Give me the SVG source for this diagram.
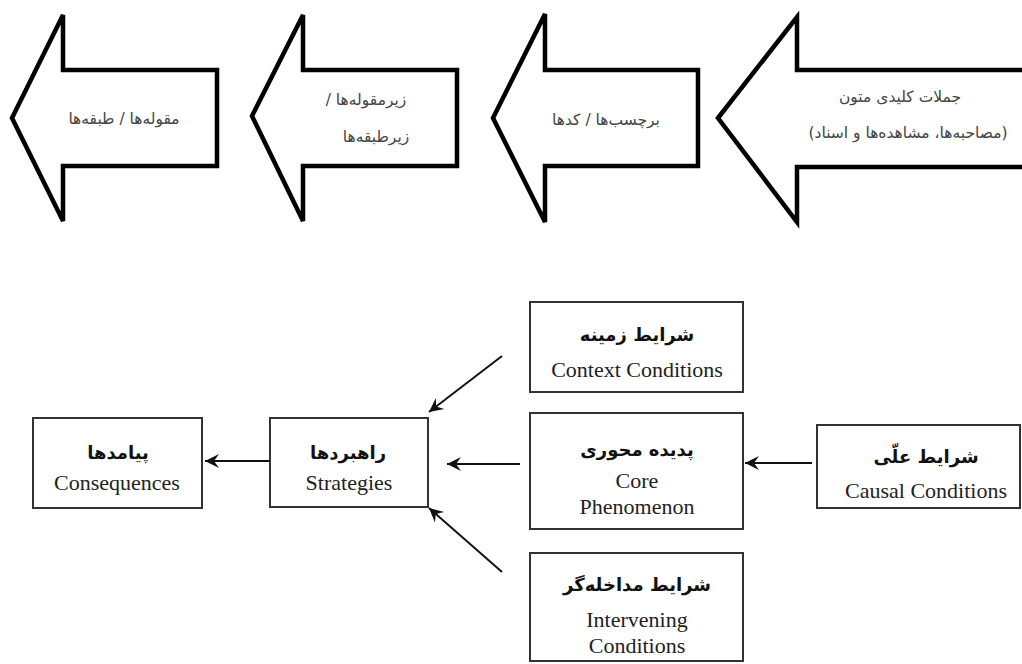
<svg xmlns="http://www.w3.org/2000/svg" width="1022" height="664" viewBox="0 0 1022 664">
  <defs>
    <style>
      .blk { fill: #ffffff; stroke: #000000; stroke-width: 4.5; stroke-linejoin: miter; }
      .tfa { font-family: "DejaVu Sans", "Noto Sans", sans-serif; font-size: 15.5px; fill: #444444; text-anchor: middle; direction: rtl; unicode-bidi: embed; }
      .box { fill: #ffffff; stroke: #333333; stroke-width: 2; }
      .fa { font-family: "DejaVu Sans", "Noto Sans", sans-serif; font-size: 18px; font-weight: bold; fill: #111111; text-anchor: middle; direction: rtl; unicode-bidi: embed; }
      .en { font-family: "Liberation Serif", "Times New Roman", serif; font-size: 22px; fill: #222222; text-anchor: middle; }
      .con { stroke: #111111; stroke-width: 2; fill: none; marker-end: url(#ah); }
    </style>
    <marker id="ah" markerWidth="16" markerHeight="16" refX="14" refY="8" orient="auto" markerUnits="userSpaceOnUse">
      <path d="M0,1 L14,8 L0,15 L5,8 Z" fill="#111111"/>
    </marker>
  </defs>
  <rect x="0" y="0" width="1022" height="664" fill="#ffffff"/>

  <g id="arrow-categories">
    <path class="blk" d="M12,118 L63,15 L63,70 L217,70 L217,166 L63,166 L63,221 Z"/>
    <text class="tfa" x="124" y="124">مقوله‌ها / طبقه‌ها</text>
  </g>
  <g id="arrow-subcategories">
    <path class="blk" d="M252,116 L303,15 L303,70 L457,70 L457,166 L303,166 L303,221 Z"/>
    <text class="tfa" x="366" y="105">زیرمقوله‌ها /</text>
    <text class="tfa" x="376" y="142">زیرطبقه‌ها</text>
  </g>
  <g id="arrow-codes">
    <path class="blk" d="M493,118 L545,14 L545,70 L698,70 L698,166 L545,166 L545,222 Z"/>
    <text class="tfa" x="606" y="125">برچسب‌ها / کدها</text>
  </g>
  <g id="arrow-sentences">
    <path class="blk" d="M718,118 L797,17 L797,70 L1030,70 L1030,167 L797,167 L797,222 Z"/>
    <text class="tfa" x="900" y="102">جملات کلیدی متون</text>
    <text class="tfa" x="908" y="138">(مصاحبه‌ها، مشاهده‌ها و اسناد)</text>
  </g>

  <g id="node-context">
    <rect class="box" x="530" y="302" width="213" height="90"/>
    <text class="fa" x="637" y="341">شرایط زمینه</text>
    <text class="en" x="637" y="377">Context Conditions</text>
  </g>
  <g id="node-core">
    <rect class="box" x="530" y="413" width="213" height="116"/>
    <text class="fa" x="637" y="456">پدیده محوری</text>
    <text class="en" x="637" y="488">Core</text>
    <text class="en" x="637" y="514">Phenomenon</text>
  </g>
  <g id="node-intervening">
    <rect class="box" x="530" y="553" width="213" height="108"/>
    <text class="fa" x="637" y="591">شرایط مداخله‌گر</text>
    <text class="en" x="637" y="627">Intervening</text>
    <text class="en" x="637" y="653">Conditions</text>
  </g>
  <g id="node-causal">
    <rect class="box" x="817" y="425" width="203" height="83"/>
    <text class="fa" x="926" y="463">شرایط علّی</text>
    <text class="en" x="926" y="498">Causal Conditions</text>
  </g>
  <g id="node-strategies">
    <rect class="box" x="270" y="418" width="158" height="89"/>
    <text class="fa" x="348" y="459">راهبردها</text>
    <text class="en" x="349" y="490">Strategies</text>
  </g>
  <g id="node-consequences">
    <rect class="box" x="33" y="418" width="169" height="90"/>
    <text class="fa" x="118" y="459">پیامدها</text>
    <text class="en" x="117" y="490">Consequences</text>
  </g>

  <g id="connectors">
    <line class="con" x1="270" y1="461" x2="205" y2="461"/>
    <line class="con" x1="520" y1="464" x2="447" y2="464"/>
    <line class="con" x1="812" y1="463" x2="745" y2="463"/>
    <line class="con" x1="502" y1="356" x2="429" y2="412"/>
    <line class="con" x1="502" y1="572" x2="429" y2="508"/>
  </g>
</svg>
